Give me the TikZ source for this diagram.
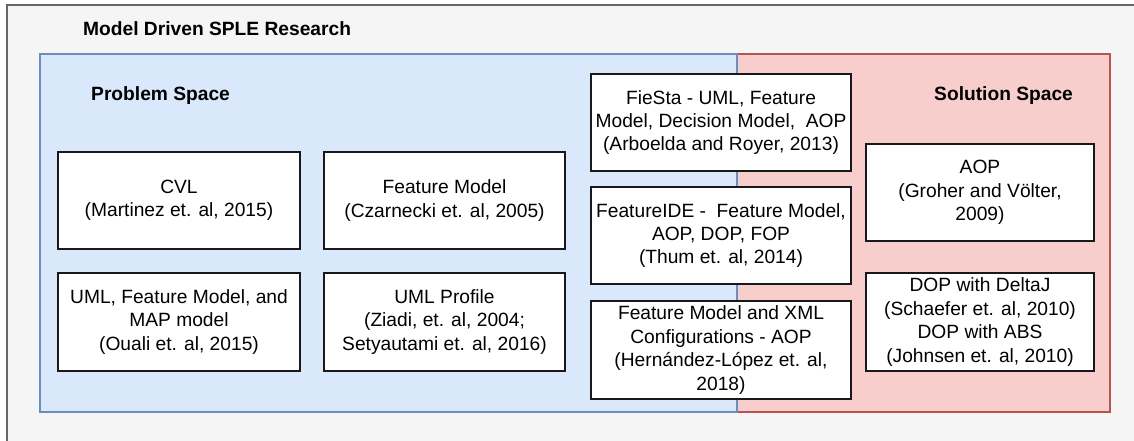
\documentclass[tikz,border=0pt]{standalone}
\usepackage{fontspec}
\setmainfont{Liberation Sans}
\definecolor{outerfill}{HTML}{F5F5F5}
\definecolor{outerline}{HTML}{666666}
\definecolor{probfill}{HTML}{DAE8FC}
\definecolor{probline}{HTML}{6C8EBF}
\definecolor{solfill}{HTML}{F8CECC}
\definecolor{solline}{HTML}{B85450}
\begin{document}
\begin{tikzpicture}[x=1pt,y=-1pt,
  card/.style={draw=black!90, line width=1.2pt, fill=white, align=center, inner sep=0pt,
    font=\fontsize{19.2}{23.4}\selectfont},
  head/.style={font=\bfseries\fontsize{19.2}{23}\selectfont, anchor=base west, inner sep=0pt},
  region/.style={line width=1.2pt}]
\useasboundingbox (0,0) rectangle (1134,441);
\clip (0,0) rectangle (1134,441);
% outer container
\draw[fill=outerfill, draw=outerline, line width=1.2pt] (7,5) rectangle (1160,470);
\node[head] (title) at (83,36) {Model Driven SPLE Research};
% spaces
\draw[region, fill=solfill, draw=solline] (737,54) rectangle (1110,412);
\draw[region, fill=probfill, draw=probline] (40,54) rectangle (737,412);
\node[head] (prob) at (91,101) {Problem Space};
\node[head] (sol) at (934,101) {Solution Space};
% problem space cards
\node[card, minimum width=242pt, minimum height=97pt] (cvl) at (179,200.5)
  {CVL\\(Martinez et. al, 2015)};
\node[card, minimum width=241pt, minimum height=97pt] (fm) at (444.5,200.5)
  {Feature Model\\(Czarnecki et. al, 2005)};
\node[card, minimum width=242pt, minimum height=98pt] (uml) at (179,322)
  {UML, Feature Model, and\\MAP model\\(Ouali et. al, 2015)};
\node[card, minimum width=241pt, minimum height=98pt] (prof) at (444.5,322)
  {UML Profile\\(Ziadi, et. al, 2004;\\Setyautami et. al, 2016)};
% middle cards
\node[card, minimum width=260pt, minimum height=97pt] (fiesta) at (721,122.5)
  {FieSta - UML, Feature\\Model, Decision Model,\ \ AOP\\(Arboelda and Royer, 2013)};
\node[card, minimum width=260pt, minimum height=97pt] (fide) at (721,235.5)
  {FeatureIDE -\ \ Feature Model,\\AOP, DOP, FOP\\(Thum et. al, 2014)};
\node[card, minimum width=260pt, minimum height=98pt] (xml) at (721,350)
  {Feature Model and XML\\Configurations - AOP\\(Hernández-López et. al,\\2018)};
% solution space cards
\node[card, minimum width=228pt, minimum height=97pt] (aop) at (980,192.5)
  {AOP\\(Groher and Völter,\\2009)};
\node[card, minimum width=228pt, minimum height=98pt] (dop) at (980,322)
  {DOP with DeltaJ\\(Schaefer et. al, 2010)\\DOP with ABS\\(Johnsen et. al, 2010)};
\end{tikzpicture}
\end{document}
